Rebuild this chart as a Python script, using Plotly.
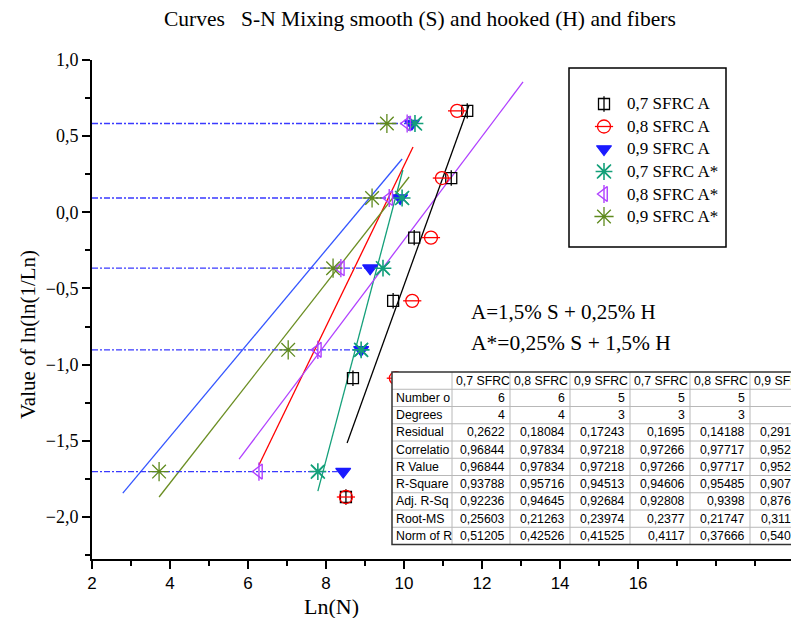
import plotly.graph_objects as go

# ---------------- data ----------------
y6 = [-1.869, -1.089, -0.581, -0.166, 0.225, 0.666]
y5 = [-1.702, -0.903, -0.367, 0.094, 0.583]

x_07A = [8.51, 8.69, 9.72, 10.26, 11.21, 11.62]
x_08A = [8.51, 9.79, 10.21, 10.69, 10.97, 11.36]
x_09A = [8.44, 8.90, 9.13, 9.90, 10.20]
x_07As = [7.79, 8.90, 9.46, 9.95, 10.28]
x_08As = [6.28, 7.79, 8.38, 9.62, 10.08]
x_09As = [3.72, 7.03, 8.18, 9.18, 9.56]

# fitted straight lines (start / end points in data units)
fit_colors = ["#3355ff", "#ff0000", "#14a07a", "#6b8e23", "#b040ff", "#000000"]
fit_x0 = [2.79, 6.28, 7.79, 3.72, 5.77, 8.54]
fit_y0 = [-1.843, -1.659, -1.830, -1.869, -1.620, -1.515]
fit_x1 = [9.95, 10.23, 9.97, 10.13, 13.05, 11.66]
fit_y1 = [0.350, 0.429, 0.278, 0.232, 0.856, 0.700]

# dash-dot guide lines (levels of the 5-point series)
guide_start = 2.0
guide_end = [8.30, 9.05, 9.40, 9.90, 10.05]

x_tickvals = [2, 4, 6, 8, 10, 12, 14, 16]

# statistics table
table_header = ["", "0,7 SFRC", "0,8 SFRC", "0,9 SFRC", "0,7 SFRC", "0,8 SFRC", "0,9 SFRC"]
row_labels = ["Number o", "Degrees", "Residual", "Correlatio", "R Value",
              "R-Square", "Adj. R-Sq", "Root-MS", "Norm of R"]
row_values = [
    ["6", "6", "5", "5", "5", "5"],
    ["4", "4", "3", "3", "3", "3"],
    ["0,2622", "0,18084", "0,17243", "0,1695", "0,14188", "0,29183"],
    ["0,96844", "0,97834", "0,97218", "0,97266", "0,97717", "0,95245"],
    ["0,96844", "0,97834", "0,97218", "0,97266", "0,97717", "0,95245"],
    ["0,93788", "0,95716", "0,94513", "0,94606", "0,95485", "0,90716"],
    ["0,92236", "0,94645", "0,92684", "0,92808", "0,9398", "0,87621"],
    ["0,25603", "0,21263", "0,23974", "0,2377", "0,21747", "0,31189"],
    ["0,51205", "0,42526", "0,41525", "0,4117", "0,37666", "0,54021"],
]

series_names = ["0,7 SFRC A", "0,8 SFRC A", "0,9 SFRC A",
                "0,7 SFRC A*", "0,8 SFRC A*", "0,9 SFRC A*"]

# ---------------- layout constants ----------------
W, H = 791, 618
L, T, B, R = 92, 60, 59, 0
PW, PH = W - L - R, H - T - B
XR = [2, 19.92]
YR = [-2.276, 1.0]

def px(p):
    return (p - L) / PW

def py(p):
    return (T + PH - p) / PH

SERIF = "Liberation Serif, Times New Roman, serif"
SANS = "Liberation Sans, Arial, sans-serif"

# marker styles per series: (symbol, colour, size, line width, overlay symbol, fill)
styles = [
    ("square-open", "#000000", 11, 1.3, "line-ns-open", None),
    ("circle-open", "#ff0000", 13, 1.3, "line-ew-open", None),
    ("triangle-down", "#1a1aff", 13, 1.2, None, "#1a1aff"),
    ("asterisk-open", "#14a07a", 14, 1.6, "x-thin-open", None),
    ("triangle-left-open", "#b040ff", 13, 1.4, "line-ns-open", None),
    ("asterisk-open", "#5f8a1e", 16, 1.3, None, None),
]
series_x = [x_07A, x_08A, x_09A, x_07As, x_08As, x_09As]
series_y = [y6, y6, y5, y5, y5, y5]

fig = go.Figure()

# fitted lines
for c, a, b, cc, d in zip(fit_colors, fit_x0, fit_y0, fit_x1, fit_y1):
    fig.add_trace(go.Scatter(x=[a, cc], y=[b, d], mode="lines",
                             line=dict(color=c, width=1.3),
                             showlegend=False, hoverinfo="skip"))

# dash-dot guides
for yv, xe in zip(y5, guide_end):
    fig.add_trace(go.Scatter(x=[guide_start, xe], y=[yv, yv], mode="lines",
                             line=dict(color="#3a3aff", width=1.3, dash="6px,2px,2px,2px"),
                             showlegend=False, hoverinfo="skip"))

def add_markers(xs, ys, style, xaxis="x", yaxis="y"):
    sym, col, size, lw, overlay, fill = style
    fig.add_trace(go.Scatter(
        x=xs, y=ys, mode="markers", xaxis=xaxis, yaxis=yaxis, showlegend=False,
        cliponaxis=False,
        marker=dict(symbol=sym, size=size, color=fill if fill else col,
                    line=dict(color=col, width=lw))))
    if overlay:
        fig.add_trace(go.Scatter(
            x=xs, y=ys, mode="markers", xaxis=xaxis, yaxis=yaxis, showlegend=False,
            cliponaxis=False, hoverinfo="skip",
            marker=dict(symbol=overlay, size=size, color=col,
                        line=dict(color=col, width=lw))))

for xs, ys, st in zip(series_x, series_y, styles):
    add_markers(xs, ys, st)

shapes = []
annotations = []

# legend box (drawn manually)
shapes.append(dict(type="rect", xref="paper", yref="paper",
                   x0=px(569), x1=px(726), y0=py(247), y1=py(68),
                   line=dict(color="black", width=1.5), fillcolor="white",
                   layer="below"))
leg_top = 104
leg_step = 22.5
for i, (nm, st) in enumerate(zip(series_names, styles)):
    yy = py(leg_top + i * leg_step)
    add_markers([px(604)], [yy], st, xaxis="x2", yaxis="y2")
    annotations.append(dict(xref="paper", yref="paper", x=px(625), y=yy,
                            text=nm, showarrow=False, xanchor="left",
                            yanchor="middle",
                            font=dict(family=SERIF, size=17, color="black")))

# table
col_edges = [392, 452, 510, 570, 630, 690, 750, 810]
t_top = 372
row_h = 17.25
n_rows = 1 + len(row_labels)
t_bot = t_top + n_rows * row_h
shapes.append(dict(type="rect", xref="paper", yref="paper",
                   x0=px(col_edges[0]), x1=px(col_edges[-1]),
                   y0=py(t_bot), y1=py(t_top),
                   line=dict(width=0), fillcolor="white", layer="above"))
for i in range(1, n_rows):
    yy = py(t_top + i * row_h)
    shapes.append(dict(type="line", xref="paper", yref="paper",
                       x0=px(col_edges[0]), x1=px(col_edges[-1]), y0=yy, y1=yy,
                       line=dict(color="#b8b8b8", width=1), layer="above"))
for ce in col_edges[1:-1]:
    shapes.append(dict(type="line", xref="paper", yref="paper",
                       x0=px(ce), x1=px(ce), y0=py(t_bot), y1=py(t_top),
                       line=dict(color="#b8b8b8", width=1), layer="above"))
shapes.append(dict(type="rect", xref="paper", yref="paper",
                   x0=px(col_edges[0]), x1=px(col_edges[-1]),
                   y0=py(t_bot), y1=py(t_top),
                   line=dict(color="#333333", width=1.5), fillcolor="rgba(0,0,0,0)",
                   layer="above"))

TFONT = dict(family=SANS, size=12.3, color="black")
for j, h in enumerate(table_header):
    if h:
        annotations.append(dict(xref="paper", yref="paper", x=px(col_edges[j] + 2),
                                y=py(t_top + row_h / 2), text=h, showarrow=False,
                                xanchor="left", yanchor="middle", font=TFONT))
for i, lab in enumerate(row_labels):
    yc = py(t_top + (i + 1.5) * row_h)
    annotations.append(dict(xref="paper", yref="paper", x=px(col_edges[0] + 2), y=yc,
                            text=lab, showarrow=False, xanchor="left",
                            yanchor="middle", font=TFONT))
    for j, v in enumerate(row_values[i]):
        annotations.append(dict(xref="paper", yref="paper", x=px(col_edges[j + 2] - 3),
                                y=yc, text=v, showarrow=False, xanchor="right",
                                yanchor="middle", font=TFONT))

# text annotations
annotations.append(dict(xref="paper", yref="paper", x=px(420), y=py(19),
                        text="Curves   S-N Mixing smooth (S) and hooked (H) and fibers",
                        showarrow=False, xanchor="center", yanchor="middle",
                        font=dict(family=SERIF, size=21.5, color="black")))
annotations.append(dict(xref="paper", yref="paper", x=px(469), y=py(312),
                        text="A=1,5% S + 0,25% H", showarrow=False,
                        xanchor="left", yanchor="middle",
                        font=dict(family=SERIF, size=21, color="black")))
annotations.append(dict(xref="paper", yref="paper", x=px(469), y=py(343),
                        text="A*=0,25% S + 1,5% H", showarrow=False,
                        xanchor="left", yanchor="middle",
                        font=dict(family=SERIF, size=21.5, color="black")))
annotations.append(dict(xref="paper", yref="paper", x=px(331), y=py(606),
                        text="Ln(N)", showarrow=False,
                        xanchor="center", yanchor="middle",
                        font=dict(family=SERIF, size=22, color="black")))
annotations.append(dict(xref="paper", yref="paper", x=px(28), y=py(335),
                        text="Value of ln(ln(1/Ln)", showarrow=False, textangle=-90,
                        xanchor="center", yanchor="middle",
                        font=dict(family=SERIF, size=21, color="black")))

fig.update_layout(
    width=W, height=H,
    margin=dict(l=L, r=R, t=T, b=B, pad=0),
    paper_bgcolor="white", plot_bgcolor="white",
    separators=",.",
    shapes=shapes, annotations=annotations,
    showlegend=False,
    xaxis=dict(range=XR, showgrid=False, zeroline=False, showline=True,
               linecolor="black", linewidth=2, ticks="outside", ticklen=8,
               tickwidth=1.5, tickcolor="black", tickvals=x_tickvals,
               tickfont=dict(family=SANS, size=17, color="black"),
               minor=dict(dtick=1, tick0=2, ticks="outside", ticklen=5, tickwidth=1.5,
                          tickcolor="black", showgrid=False)),
    yaxis=dict(range=YR, showgrid=False, zeroline=False, showline=True,
               linecolor="black", linewidth=2, ticks="outside", ticklen=8,
               tickwidth=1.5, tickcolor="black", dtick=0.5, tick0=0,
               tickformat=".1f",
               tickfont=dict(family=SERIF, size=18, color="black"),
               minor=dict(dtick=0.25, ticks="outside", ticklen=5, tickwidth=1.5,
                          tickcolor="black", showgrid=False)),
    xaxis2=dict(overlaying="x", range=[0, 1], visible=False, fixedrange=True),
    yaxis2=dict(overlaying="y", range=[0, 1], visible=False, fixedrange=True),
)

fig.write_html("out.html")
